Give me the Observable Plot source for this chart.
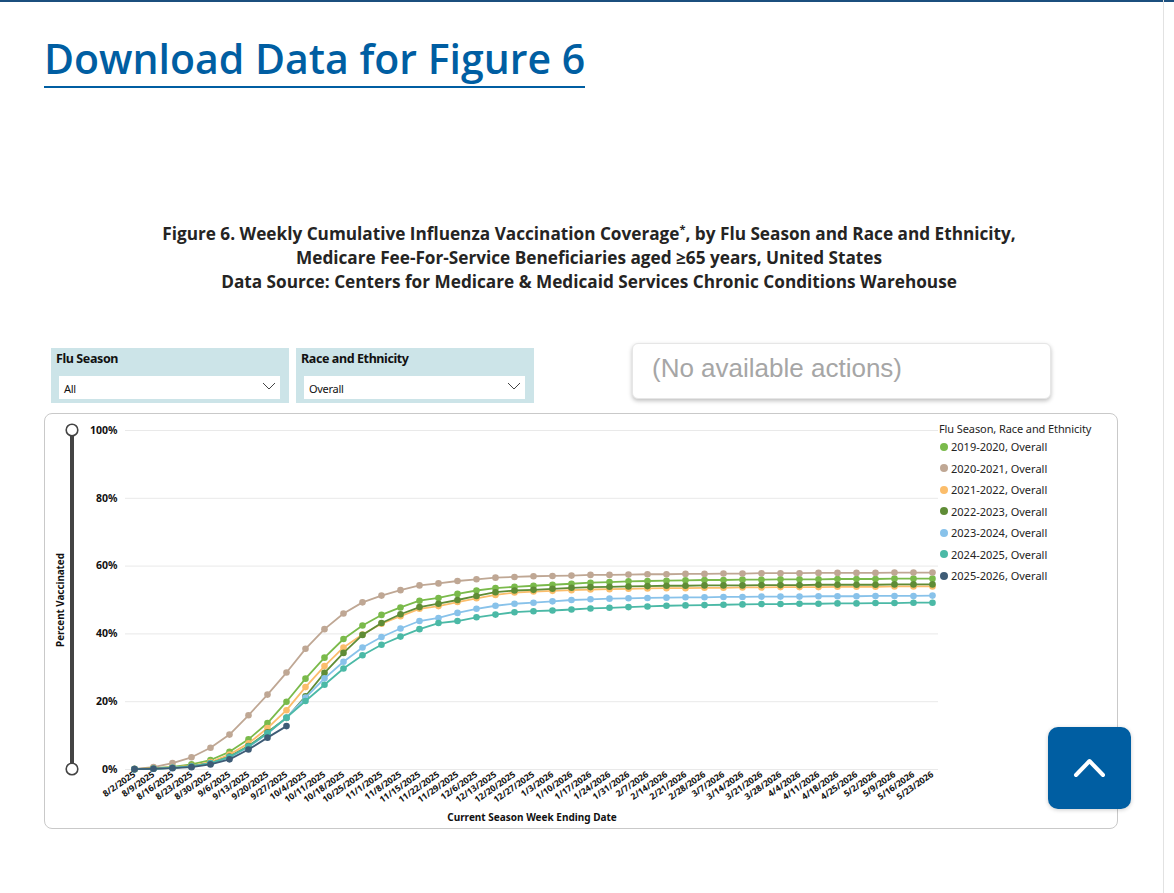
<!DOCTYPE html>
<html><head><meta charset="utf-8">
<script src="https://cdn.jsdelivr.net/npm/d3@7"></script>
<script src="https://cdn.jsdelivr.net/npm/@observablehq/plot@0.6"></script>
<style>
html,body{margin:0;padding:0;background:#fff;}
body{width:1174px;height:893px;overflow:hidden;position:relative;font-family:"Open Sans",sans-serif;color:#222;}
.abs{position:absolute;}
#topline{left:0;top:0;width:1174px;height:2px;background:#1b4f7e;}
#rightline{left:1163px;top:0;width:1px;height:893px;background:#e2e2e2;}
#hdr{left:44px;top:30px;font-family:"Open Sans",sans-serif;font-weight:600;font-size:41px;color:#005ea2;letter-spacing:0px;line-height:56px;border-bottom:2px solid #005ea2;white-space:nowrap;}
#title{left:0;width:1178px;top:222px;text-align:center;font-weight:700;font-size:17.2px;line-height:24px;color:#252423;}
#title sup{font-size:11px;line-height:0;vertical-align:7px;}
.slicer{top:348px;height:55px;width:238px;background:#cce4e8;}
.slicer .lab{position:absolute;left:5px;top:2px;font-family:"Noto Sans",sans-serif;font-weight:700;font-size:12.5px;letter-spacing:-0.4px;color:#111;}
.slicer .box{position:absolute;left:8px;top:28px;width:221px;height:23px;background:#fff;}
.slicer .box span{position:absolute;left:5px;top:5px;font-family:"Noto Sans",sans-serif;font-size:11px;letter-spacing:-0.3px;color:#111;}
.slicer .box svg{position:absolute;right:4px;top:5px;}
#actions{left:632px;top:343px;width:417px;height:54px;background:#fff;border-radius:6px;box-shadow:0 2px 4px rgba(0,0,0,0.25);border:1px solid #e6e6e6;}
#actions span{position:absolute;left:19px;top:9px;font-family:"Liberation Sans",Arial,sans-serif;font-size:26px;color:#a6a6a6;}
#frame{left:44px;top:413px;width:1072px;height:414px;border:1px solid #c9c9c9;border-radius:8px;}
#chart{left:44px;top:413px;}
#legend{left:939px;top:421px;font-family:"Noto Sans",sans-serif;font-size:11px;color:#252423;}
#legend .t{margin-bottom:0px;letter-spacing:-0.1px;}
#legend .it{height:21.5px;display:flex;align-items:center;white-space:nowrap;}
#legend .it i{display:inline-block;width:8px;height:8px;border-radius:50%;margin-right:3px;margin-left:1px;}
#up{left:1048px;top:727px;width:83px;height:82px;background:#005ea2;border-radius:10px;box-shadow:0 1px 4px rgba(0,0,0,0.2);}
</style></head>
<body>
<div class="abs" id="topline"></div>
<div class="abs" id="rightline"></div>
<div class="abs" id="hdr">Download Data for Figure 6</div>
<div class="abs" id="title">Figure 6. Weekly Cumulative Influenza Vaccination Coverage<sup>*</sup>, by Flu Season and Race and Ethnicity,<br>Medicare Fee-For-Service Beneficiaries aged ≥65 years, United States<br>Data Source: Centers for Medicare &amp; Medicaid Services Chronic Conditions Warehouse</div>
<div class="abs slicer" style="left:51px"><div class="lab">Flu Season</div><div class="box"><span>All</span><svg width="14" height="10"><polyline points="1,2 7,8 13,2" fill="none" stroke="#444" stroke-width="1"/></svg></div></div>
<div class="abs slicer" style="left:296px"><div class="lab">Race and Ethnicity</div><div class="box"><span>Overall</span><svg width="14" height="10"><polyline points="1,2 7,8 13,2" fill="none" stroke="#444" stroke-width="1"/></svg></div></div>
<div class="abs" id="actions"><span>(No available actions)</span></div>
<div class="abs" id="frame"></div>
<div class="abs" id="chart"></div>
<svg class="abs" style="left:60px;top:418px" width="26" height="364">
  <line x1="12" y1="18" x2="12" y2="345" stroke="#444" stroke-width="4"/>
  <circle cx="12" cy="12" r="5.8" fill="#fff" stroke="#444" stroke-width="1.6"/>
  <circle cx="12" cy="351" r="5.8" fill="#fff" stroke="#444" stroke-width="1.6"/>
</svg>
<div class="abs" id="legend"></div>
<div class="abs" id="up"><svg width="83" height="82"><polyline points="28,48 41.5,34 55,48" fill="none" stroke="#fff" stroke-width="4" stroke-linecap="round" stroke-linejoin="round"/></svg></div>
<script>
const weeks = ["8/2/2025","8/9/2025","8/16/2025","8/23/2025","8/30/2025","9/6/2025","9/13/2025","9/20/2025","9/27/2025","10/4/2025","10/11/2025","10/18/2025","10/25/2025","11/1/2025","11/8/2025","11/15/2025","11/22/2025","11/29/2025","12/6/2025","12/13/2025","12/20/2025","12/27/2025","1/3/2026","1/10/2026","1/17/2026","1/24/2026","1/31/2026","2/7/2026","2/14/2026","2/21/2026","2/28/2026","3/7/2026","3/14/2026","3/21/2026","3/28/2026","4/4/2026","4/11/2026","4/18/2026","4/25/2026","5/2/2026","5/9/2026","5/16/2026","5/23/2026"];
const seasons = ["2019-2020, Overall","2020-2021, Overall","2021-2022, Overall","2022-2023, Overall","2023-2024, Overall","2024-2025, Overall","2025-2026, Overall"];
const colors = ["#7aba4b","#bfa794","#fbbd6b","#5f8c36","#88c2ea","#4bb9a6","#3e5c76"];
const yTicks = [0,20,40,60,80,100];
const s2019 = [0.1,0.4,0.8,1.5,2.8,5.2,8.9,13.7,20.0,26.8,33.0,38.5,42.5,45.6,47.8,49.8,50.6,51.8,52.8,53.5,53.9,54.2,54.5,54.8,55.1,55.3,55.5,55.6,55.7,55.8,55.9,55.9,56.0,56.0,56.1,56.1,56.1,56.2,56.2,56.2,56.3,56.3,56.3];
const s2020 = [0.2,0.7,1.9,3.6,6.4,10.3,16.0,22.1,28.6,35.6,41.4,46.0,49.3,51.3,52.9,54.3,54.9,55.6,56.1,56.6,56.8,57.0,57.1,57.2,57.4,57.4,57.5,57.6,57.6,57.7,57.7,57.8,57.8,57.9,57.9,57.9,58.0,58.0,58.0,58.0,58.1,58.1,58.1];
const s2021 = [0.1,0.3,0.6,1.1,2.2,4.4,7.7,12.2,17.5,24.3,30.5,36.0,39.8,43.0,45.2,47.4,48.2,49.4,50.5,51.5,52.2,52.5,52.7,52.9,53.1,53.2,53.3,53.4,53.5,53.5,53.6,53.6,53.7,53.7,53.8,53.8,53.8,53.9,53.9,53.9,54.0,54.0,54.0];
const s2022 = [0.1,0.3,0.5,1.0,1.9,3.8,6.9,11.0,15.2,21.6,28.5,34.4,39.7,43.2,45.8,47.9,48.9,50.0,51.2,52.3,52.8,53.0,53.3,53.6,53.8,53.9,54.0,54.1,54.2,54.2,54.3,54.3,54.3,54.4,54.4,54.4,54.5,54.5,54.5,54.5,54.6,54.6,54.6];
const s2023 = [0.1,0.2,0.5,0.9,1.8,3.6,6.6,10.6,15.3,21.2,26.9,31.8,36.0,39.1,41.6,43.8,44.7,46.2,47.4,48.3,48.9,49.2,49.6,50.0,50.2,50.4,50.5,50.6,50.7,50.8,50.8,50.9,50.9,51.0,51.0,51.0,51.1,51.1,51.1,51.2,51.2,51.2,51.3];
const s2024 = [0.1,0.2,0.5,0.9,1.8,3.7,6.8,10.7,15.3,20.2,25.0,29.8,33.7,36.8,39.2,41.4,43.2,43.8,44.9,45.7,46.4,46.7,46.9,47.2,47.5,47.7,47.9,48.1,48.3,48.4,48.5,48.6,48.7,48.8,48.8,48.9,48.9,49.0,49.0,49.1,49.1,49.2,49.2];
const s2025 = [0.1,0.2,0.4,0.7,1.5,3.0,5.9,9.4,12.8];
const seriesValues = [s2019,s2020,s2021,s2022,s2023,s2024,s2025];

const rows = seasons.map((s,k) => seriesValues[k].map((v,i) => ({season:s, week:weeks[i], value:v})));

const chart = Plot.plot({
  width:1074, height:416,
  marginLeft:81, marginRight:180, marginTop:17, marginBottom:60,
  style:{fontFamily:"'Noto Sans', sans-serif", fontWeight:700, color:"#111", background:"transparent", overflow:"visible"},
  x:{type:"point", domain:weeks, range:[89,888], padding:0},
  y:{domain:[0,100]},
  color:{domain:seasons, range:colors},
  marks:[
    Plot.gridY(yTicks, {stroke:"#e9e9e9", strokeOpacity:1, strokeWidth:1}),
    ...rows.flatMap(r => [
      Plot.line(r, {x:"week", y:"value", stroke:"season", strokeWidth:1.8}),
      Plot.dot(r, {x:"week", y:"value", fill:"season", r:3.3})
    ]),
    Plot.axisY(yTicks, {tickSize:0, tickPadding:8, tickFormat:d=>d+"%", label:null, fontSize:10.5, fontWeight:700}),
    Plot.axisX(weeks, {tickSize:0, tickPadding:4, tickRotate:-35, label:null, fontSize:8.8, fontWeight:700}),
    Plot.text(["Percent Vaccinated"], {frameAnchor:"left", textAnchor:"middle", dx:-65, rotate:-90, fontSize:9.8, fontWeight:700, fill:"#111"}),
    Plot.text(["Current Season Week Ending Date"], {frameAnchor:"bottom", dy:51, fontSize:10, fontWeight:700, fill:"#111"})
  ]
});
document.getElementById("chart").appendChild(chart);

const lg = document.getElementById("legend");
lg.innerHTML = '<div class="t">Flu Season, Race and Ethnicity</div>' +
  seasons.map((s,k) => `<div class="it"><i style="background:${colors[k]}"></i>${s}</div>`).join("");
</script>
</body></html>
